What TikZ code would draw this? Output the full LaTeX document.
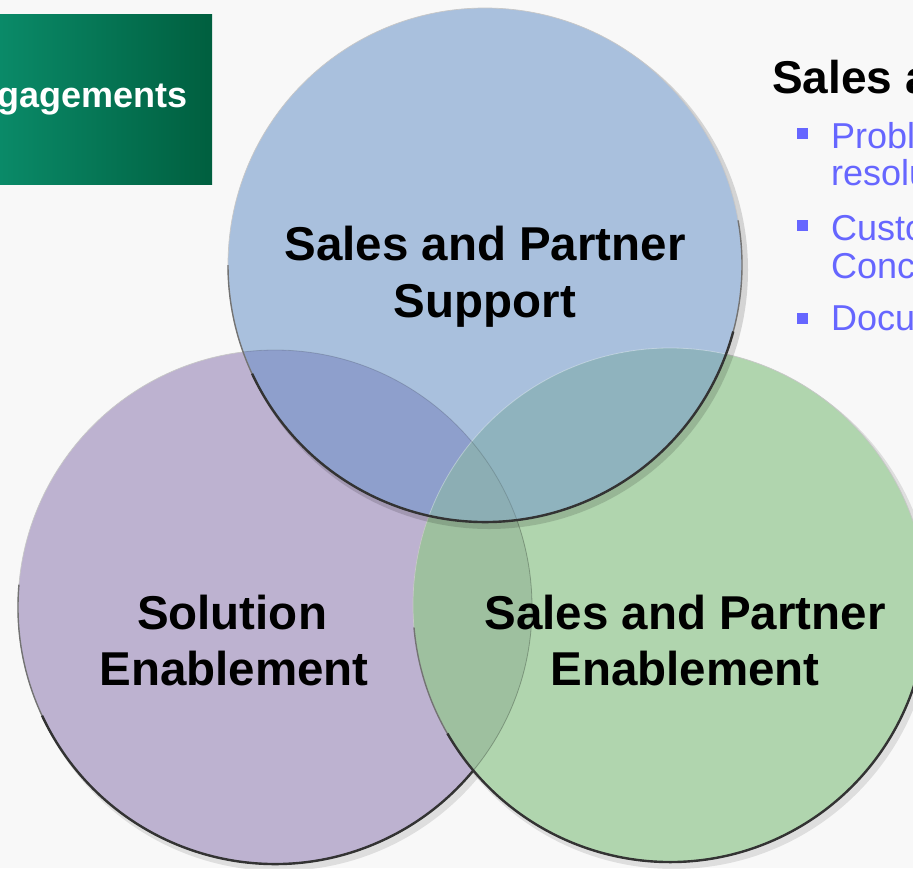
\documentclass[tikz,border=0pt]{standalone}
\usepackage{fontspec}
\setmainfont{Liberation Sans}
\usetikzlibrary{calc}
\definecolor{bgc}{HTML}{F8F8F8}
\definecolor{pur}{HTML}{BDB2D0}
\definecolor{grn}{HTML}{B0D5AE}
\definecolor{blu}{HTML}{A9C0DD}
\definecolor{pgc}{HTML}{9EC09F}
\definecolor{bpc}{HTML}{8E9FCC}
\definecolor{bgcc}{HTML}{8FB3BE}
\definecolor{bpgc}{HTML}{8CAEB4}
\definecolor{boxl}{HTML}{0A8A68}
\definecolor{boxr}{HTML}{005F3F}
\definecolor{bul}{HTML}{6666FF}
\tikzset{
  lbl/.style={anchor=base,font=\fontsize{47.5}{57}\selectfont\bfseries,inner sep=0pt},
  btxt/.style={anchor=base west,font=\fontsize{36}{38}\selectfont,text=bul,inner sep=0pt},
  bsq/.style={fill=bul,minimum size=11pt,inner sep=0pt},
  rim/.style={draw=black!80,line width=2.4pt},
  midrim/.style={draw=black!55,line width=1.4pt},
  softrim/.style={draw=black!22,line width=0.7pt}
}
\begin{document}
\begin{tikzpicture}[x=1pt,y=-1pt]
\useasboundingbox (0,0) rectangle (913,868);
\clip (0,0) rectangle (913,868);
\fill[bgc] (0,0) rectangle (913,868);
% title box
\shade[left color=boxl,right color=boxr] (0,14) rectangle (212,184);
\node[anchor=base east,font=\fontsize{36}{40}\selectfont\bfseries,text=white,inner sep=0pt] (eng) at (188,107) {gagements};
% coordinates
\coordinate (P) at (275,607);
\coordinate (G) at (670,605);
\coordinate (B) at (485,265);
% shadows
\fill[black,opacity=0.10] ($(P)+(4,5)$) circle[radius=259pt];
\fill[black,opacity=0.10] ($(G)+(4,5)$) circle[radius=259pt];
% fills
\fill[pur] (P) circle[radius=257pt];
\draw[softrim] (P) circle[radius=257pt];
\draw[midrim] (P) ++(175:257pt) arc[start angle=175,end angle=365,radius=257pt];
\draw[rim] (P) ++(205:257pt) arc[start angle=205,end angle=330,radius=257pt];
\fill[grn] (G) circle[radius=257pt];
\begin{scope}
  \clip (P) circle[radius=257pt];
  \fill[pgc] (G) circle[radius=257pt];
\end{scope}
\begin{scope}
  \clip (G) circle[radius=257pt];
  \draw[black,opacity=0.25,line width=0.8pt] (P) circle[radius=257pt];
\end{scope}
\draw[softrim] (G) circle[radius=257pt];
\draw[midrim] (G) ++(185:257pt) arc[start angle=185,end angle=370,radius=257pt];
\draw[rim] (G) ++(210:257pt) arc[start angle=210,end angle=345,radius=257pt];
\fill[black,opacity=0.14] ($(B)+(4,5)$) circle[radius=259pt];
\fill[blu] (B) circle[radius=257pt];
\begin{scope}
  \clip (B) circle[radius=257pt];
  \fill[bpc] (P) circle[radius=257pt];
  \fill[bgcc] (G) circle[radius=257pt];
  \clip (P) circle[radius=257pt];
  \fill[bpgc] (G) circle[radius=257pt];
\end{scope}
\begin{scope}
  \clip (B) circle[radius=257pt];
  \draw[white,opacity=0.35,line width=0.8pt] (G) circle[radius=257pt];
  \draw[black,opacity=0.15,line width=0.8pt] (P) circle[radius=257pt];
\end{scope}
\draw[softrim] (B) circle[radius=257pt];
\draw[midrim] (B) ++(180:257pt) arc[start angle=180,end angle=370,radius=257pt];
\draw[rim] (B) ++(205:257pt) arc[start angle=205,end angle=345,radius=257pt];
% labels
\node[lbl] (s1) at (485,260) {Sales and Partner};
\node[lbl] (s2) at (485,317) {Support};
\node[lbl] (e1) at (232,629) {Solution};
\node[lbl] (e2) at (234,685) {Enablement};
\node[lbl] (g1) at (685,629) {Sales and Partner};
\node[lbl] (g2) at (685,685) {Enablement};
% right text
\node[anchor=base west,font=\fontsize{46}{50}\selectfont\bfseries,inner sep=0pt] (hd) at (772,93) {Sales a};
\node[bsq] (b1) at (802.5,133) {};
\node[bsq] (b2) at (802.5,225) {};
\node[bsq] (b3) at (802.5,318) {};
\node[btxt] (t1) at (831,148) {Probl};
\node[btxt] (t1b) at (831,185) {resolu};
\node[btxt] (t2) at (831,240) {Custo};
\node[btxt] (t2b) at (831,278) {Conc};
\node[btxt] (t3) at (831,330) {Docu};
\end{tikzpicture}
\end{document}
